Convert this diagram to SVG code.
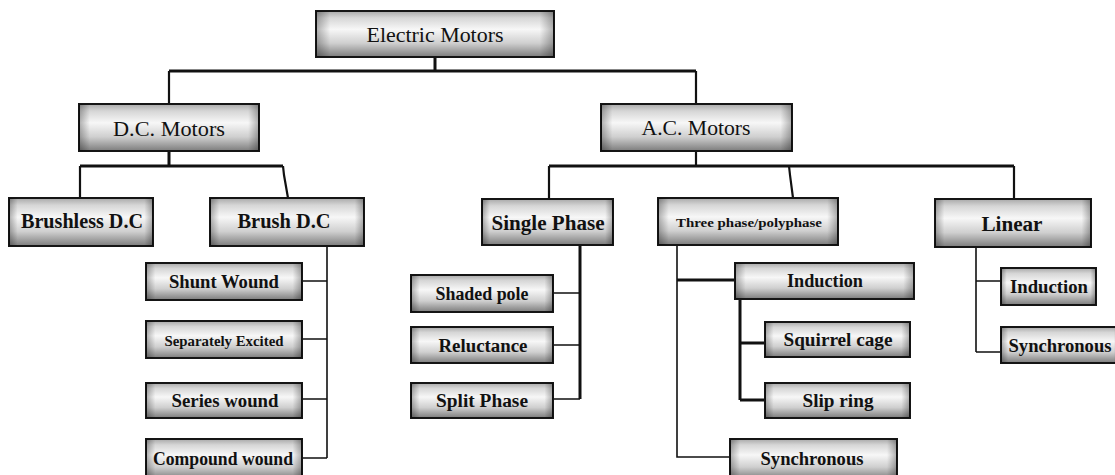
<svg xmlns="http://www.w3.org/2000/svg" width="1115" height="475" viewBox="0 0 1115 475">
<defs>
<linearGradient id="gv" x1="0" y1="0" x2="0" y2="1">
<stop offset="0" stop-color="#a8a8a8"/>
<stop offset="0.15" stop-color="#d6d6d6"/>
<stop offset="0.4" stop-color="#f7f7f7"/>
<stop offset="0.7" stop-color="#cfcfcf"/>
<stop offset="1" stop-color="#7c7c7c"/>
</linearGradient>
<linearGradient id="gh" x1="0" y1="0" x2="1" y2="0">
<stop offset="0" stop-color="#000" stop-opacity="0.3"/>
<stop offset="0.06" stop-color="#000" stop-opacity="0"/>
<stop offset="0.94" stop-color="#000" stop-opacity="0"/>
<stop offset="1" stop-color="#000" stop-opacity="0.3"/>
</linearGradient>
</defs>
<style>
.b{fill:url(#gv);stroke:#151515;stroke-width:2}
.o{fill:url(#gh);stroke:none}
.t{font-family:"Liberation Serif",serif;fill:#111;text-anchor:middle}
.m{font-size:20px}
.h{font-size:20px;font-weight:bold}
.c{font-size:18px;font-weight:bold}
.k{fill:none;stroke:#111;stroke-width:3}
.n{fill:none;stroke:#111;stroke-width:1.6}
.d{fill:none;stroke:#111;stroke-width:2.2}
</style>
<rect width="1115" height="475" fill="#fff"/>
<g id="connectors">
<path class="k" d="M435,57V71M169,71H696"/>
<path class="d" d="M169,71V104M696,71V104"/>
<path class="k" d="M169,151V166M80,166H283"/>
<path class="d" d="M80,166V198M283,166L284,175L288,198"/>
<path class="n" d="M327,246V458M302,281H327M302,339H327M302,399H327M302,458H327"/>
<path class="d" d="M696,151V166"/>
<path class="k" d="M549,166H1014"/>
<path class="d" d="M549,166V199M789,166L790,175L793,198M1014,166V199"/>
<path class="k" d="M580,245V399"/>
<path class="n" d="M553,293H580M553,345H580M553,399H580"/>
<path class="n" d="M677,245V457H730"/>
<path class="k" d="M677,280H735M740,299V400M740,343H765M740,400H765"/>
<path class="n" d="M976,247V352M976,281H1001M976,352H1001"/>
</g>
<g id="electric-motors"><rect class="b" x="316" y="11" width="238" height="46"/><rect class="o" x="316" y="11" width="238" height="46"/><text class="t m" x="435" y="42" textLength="137" lengthAdjust="spacingAndGlyphs">Electric Motors</text></g>
<g id="dc-motors"><rect class="b" x="79" y="104" width="180" height="47"/><rect class="o" x="79" y="104" width="180" height="47"/><text class="t m" x="169" y="136" textLength="112" lengthAdjust="spacingAndGlyphs">D.C. Motors</text></g>
<g id="ac-motors"><rect class="b" x="601" y="104" width="191" height="47"/><rect class="o" x="601" y="104" width="191" height="47"/><text class="t m" x="696" y="135" textLength="109" lengthAdjust="spacingAndGlyphs">A.C. Motors</text></g>
<g id="brushless-dc"><rect class="b" x="9" y="198" width="144" height="48"/><rect class="o" x="9" y="198" width="144" height="48"/><text class="t h" x="82" y="228" textLength="122" lengthAdjust="spacingAndGlyphs">Brushless D.C</text></g>
<g id="brush-dc"><rect class="b" x="210" y="198" width="154" height="48"/><rect class="o" x="210" y="198" width="154" height="48"/><text class="t h" x="284" y="228" textLength="93" lengthAdjust="spacingAndGlyphs">Brush D.C</text></g>
<g id="single-phase"><rect class="b" x="482" y="199" width="131" height="46"/><rect class="o" x="482" y="199" width="131" height="46"/><text class="t h" x="548" y="230" textLength="113" lengthAdjust="spacingAndGlyphs">Single Phase</text></g>
<g id="three-phase"><rect class="b" x="658" y="198" width="180" height="47"/><rect class="o" x="658" y="198" width="180" height="47"/><text class="t" x="749" y="227" font-size="13" font-weight="bold" textLength="146" lengthAdjust="spacingAndGlyphs">Three phase/polyphase</text></g>
<g id="linear"><rect class="b" x="935" y="199" width="156" height="48"/><rect class="o" x="935" y="199" width="156" height="48"/><text class="t h" x="1012" y="231" textLength="61" lengthAdjust="spacingAndGlyphs">Linear</text></g>
<g id="shunt-wound"><rect class="b" x="146" y="263" width="156" height="37"/><rect class="o" x="146" y="263" width="156" height="37"/><text class="t c" x="224" y="288" textLength="110" lengthAdjust="spacingAndGlyphs">Shunt Wound</text></g>
<g id="separately-excited"><rect class="b" x="146" y="321" width="156" height="37"/><rect class="o" x="146" y="321" width="156" height="37"/><text class="t" x="224" y="346" font-size="15" font-weight="bold" textLength="119" lengthAdjust="spacingAndGlyphs">Separately Excited</text></g>
<g id="series-wound"><rect class="b" x="146" y="383" width="156" height="35"/><rect class="o" x="146" y="383" width="156" height="35"/><text class="t c" x="225" y="407" textLength="107" lengthAdjust="spacingAndGlyphs">Series wound</text></g>
<g id="compound-wound"><rect class="b" x="146" y="439" width="156" height="40"/><rect class="o" x="146" y="439" width="156" height="40"/><text class="t c" x="223" y="465" textLength="140" lengthAdjust="spacingAndGlyphs">Compound wound</text></g>
<g id="shaded-pole"><rect class="b" x="411" y="275" width="142" height="37"/><rect class="o" x="411" y="275" width="142" height="37"/><text class="t c" x="482" y="300" textLength="93" lengthAdjust="spacingAndGlyphs">Shaded pole</text></g>
<g id="reluctance"><rect class="b" x="411" y="327" width="142" height="36"/><rect class="o" x="411" y="327" width="142" height="36"/><text class="t c" x="483" y="352" textLength="89" lengthAdjust="spacingAndGlyphs">Reluctance</text></g>
<g id="split-phase"><rect class="b" x="411" y="383" width="142" height="35"/><rect class="o" x="411" y="383" width="142" height="35"/><text class="t c" x="482" y="407" textLength="92" lengthAdjust="spacingAndGlyphs">Split Phase</text></g>
<g id="induction-ac"><rect class="b" x="735" y="263" width="179" height="36"/><rect class="o" x="735" y="263" width="179" height="36"/><text class="t c" x="825" y="287" textLength="76" lengthAdjust="spacingAndGlyphs">Induction</text></g>
<g id="squirrel-cage"><rect class="b" x="765" y="322" width="145" height="35"/><rect class="o" x="765" y="322" width="145" height="35"/><text class="t c" x="838" y="346" textLength="109" lengthAdjust="spacingAndGlyphs">Squirrel cage</text></g>
<g id="slip-ring"><rect class="b" x="765" y="383" width="145" height="35"/><rect class="o" x="765" y="383" width="145" height="35"/><text class="t c" x="838" y="407" textLength="71" lengthAdjust="spacingAndGlyphs">Slip ring</text></g>
<g id="synchronous-ac"><rect class="b" x="730" y="439" width="167" height="40"/><rect class="o" x="730" y="439" width="167" height="40"/><text class="t c" x="812" y="465" textLength="103" lengthAdjust="spacingAndGlyphs">Synchronous</text></g>
<g id="induction-linear"><rect class="b" x="1001" y="268" width="95" height="37"/><rect class="o" x="1001" y="268" width="95" height="37"/><text class="t c" x="1049" y="293" textLength="78" lengthAdjust="spacingAndGlyphs">Induction</text></g>
<g id="synchronous-linear"><rect class="b" x="1001" y="327" width="120" height="36"/><rect class="o" x="1001" y="327" width="120" height="36"/><text class="t c" x="1060" y="352" textLength="103" lengthAdjust="spacingAndGlyphs">Synchronous</text></g>
</svg>
